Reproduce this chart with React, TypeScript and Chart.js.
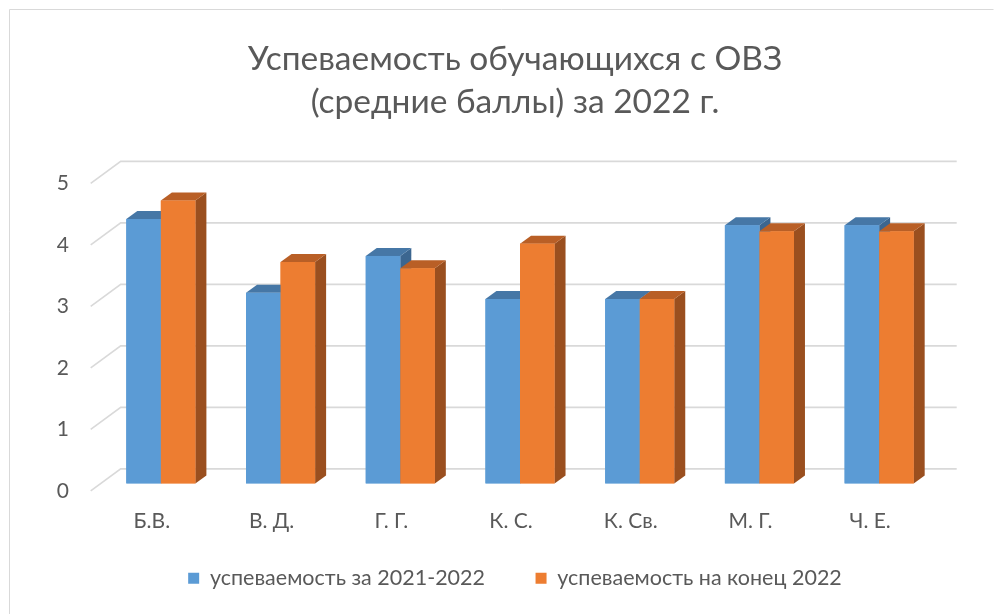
import React, { useEffect, useRef } from "react";
import { Chart, registerables } from "chart.js";

Chart.register(...registerables);

const titleLines = ["Успеваемость обучающихся с ОВЗ", "(средние баллы) за 2022 г."];
const categories = ["Б.В.", "В. Д.", "Г. Г.", "К. С.", "К. Св.", "М. Г.", "Ч. Е."];
const seriesNames = ["успеваемость за 2021-2022", "успеваемость на конец 2022"];
const values2021 = [4.3, 3.1, 3.7, 3.0, 3.0, 4.2, 4.2];
const valuesEnd2022 = [4.6, 3.6, 3.5, 3.9, 3.0, 4.1, 4.1];
const yTicks = [0, 1, 2, 3, 4, 5];

const frontColors = ["#5B9BD5", "#ED7D31"];
const topColors = ["#4677A6", "#B95F26"];
const sideColors = ["#3C6690", "#9A4F1F"];

const FONT = "Lato, 'Open Sans', sans-serif";
const TEXT = "#595959";

// bar depth offsets
const DX = 11;
const DY = -8;
// wall depth offsets (relative to bar front plane)
const FRONT_DX = -10.3;
const FRONT_DY = 7.4;
const BACK_DX = 19.7;
const BACK_DY = -14.6;

const LEGEND_GAP = "       ";

const threeD = {
  id: "threeD",
  beforeDraw(chart: any) {
    const { ctx, width, height } = chart;
    ctx.save();
    ctx.fillStyle = "#FFFFFF";
    ctx.fillRect(0, 0, width, height);
    ctx.strokeStyle = "#D9D9D9";
    ctx.lineWidth = 1;
    ctx.beginPath();
    ctx.moveTo(9.5, height);
    ctx.lineTo(9.5, 9.5);
    ctx.lineTo(993.5, 9.5);
    ctx.stroke();
    ctx.restore();
  },
  beforeDatasetsDraw(chart: any) {
    const { ctx, chartArea, scales } = chart;
    const y = scales.y;
    ctx.save();
    ctx.strokeStyle = "#D9D9D9";
    ctx.lineWidth = 1.6;
    for (const v of yTicks) {
      const py = y.getPixelForValue(v);
      ctx.beginPath();
      ctx.moveTo(chartArea.left + FRONT_DX, py + FRONT_DY);
      ctx.lineTo(chartArea.left + BACK_DX, py + BACK_DY);
      ctx.lineTo(chartArea.right + 17.7, py + BACK_DY);
      ctx.stroke();
    }
    ctx.restore();
  },
  afterDatasetsDraw(chart: any) {
    const { ctx } = chart;
    const metas = [chart.getDatasetMeta(0), chart.getDatasetMeta(1)];
    ctx.save();
    for (let j = 0; j < categories.length; j++) {
      metas.forEach((meta: any, i: number) => {
        const bar = meta.data[j];
        const { x, y, base, width } = bar.getProps(["x", "y", "base", "width"], true);
        const l = x - width / 2;
        const r = x + width / 2;
        // side
        ctx.fillStyle = sideColors[i];
        ctx.beginPath();
        ctx.moveTo(r, y);
        ctx.lineTo(r + DX, y + DY);
        ctx.lineTo(r + DX, base + DY);
        ctx.lineTo(r, base);
        ctx.closePath();
        ctx.fill();
        // top
        ctx.fillStyle = topColors[i];
        ctx.beginPath();
        ctx.moveTo(l, y);
        ctx.lineTo(l + DX, y + DY);
        ctx.lineTo(r + DX, y + DY);
        ctx.lineTo(r, y);
        ctx.closePath();
        ctx.fill();
        // front
        ctx.fillStyle = frontColors[i];
        ctx.fillRect(l, y, width, base - y);
      });
    }
    ctx.restore();
  },
};

export default function App() {
  const canvasRef = useRef<HTMLCanvasElement | null>(null);

  useEffect(() => {
    document.body.style.margin = "0";
    const canvas = canvasRef.current;
    if (!canvas) return;
    const chart = new Chart(canvas, {
      type: "bar",
      data: {
        labels: categories,
        datasets: [
          {
            label: seriesNames[0],
            data: values2021,
            backgroundColor: frontColors[0],
            borderWidth: 0,
          },
          {
            label: seriesNames[1],
            data: valuesEnd2022,
            backgroundColor: frontColors[1],
            borderWidth: 0,
          },
        ],
      },
      options: {
        animation: false,
        responsive: false,
        maintainAspectRatio: false,
        layout: { padding: { left: 29, right: 0, top: 0, bottom: 15 } },
        datasets: {
          bar: { categoryPercentage: 0.577, barPercentage: 1 },
        },
        plugins: {
          title: {
            display: true,
            text: titleLines,
            color: TEXT,
            font: { family: FONT, size: 33.5, weight: "normal", lineHeight: 43 / 33.5 },
            padding: { top: 38, bottom: 52 },
          },
          legend: {
            display: true,
            position: "bottom",
            labels: {
              color: TEXT,
              font: { family: FONT, size: 21.5 },
              boxWidth: 11,
              boxHeight: 11,
              padding: 12,
              generateLabels: (chart: any) => {
                const items = Chart.defaults.plugins.legend.labels.generateLabels(chart);
                return items.map((it: any, i: number) =>
                  i < items.length - 1 ? { ...it, text: it.text + LEGEND_GAP } : it
                );
              },
            },
          },
          tooltip: { enabled: false },
        },
        scales: {
          x: {
            grid: { display: false, drawTicks: false },
            border: { display: false },
            ticks: {
              color: TEXT,
              font: { family: FONT, size: 21 },
              padding: 25,
              labelOffset: -9,
            },
            afterFit: (scale: any) => {
              scale.height = 72;
            },
          },
          y: {
            min: 0,
            max: 5,
            grid: { display: false, drawTicks: false },
            border: { display: false },
            ticks: {
              stepSize: 1,
              color: TEXT,
              font: { family: FONT, size: 21 },
              padding: 32,
              labelOffset: 7.4,
            },
            afterFit: (scale: any) => {
              scale.width = 72;
            },
          },
          yRight: {
            type: "linear",
            position: "right",
            display: true,
            grid: { display: false, drawTicks: false },
            border: { display: false },
            ticks: { display: false },
            afterFit: (scale: any) => {
              scale.width = 62;
            },
          },
        },
      },
      plugins: [threeD],
    });
    return () => chart.destroy();
  }, []);

  return (
    <div style={{ width: 1001, height: 614 }}>
      <canvas ref={canvasRef} width={1001} height={614} />
    </div>
  );
}
